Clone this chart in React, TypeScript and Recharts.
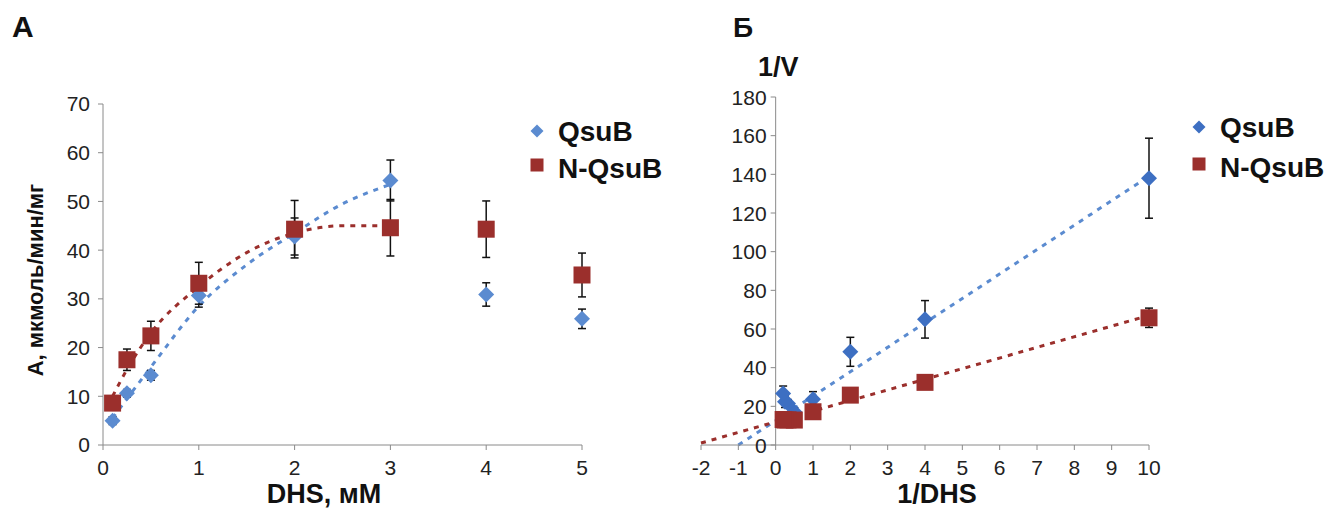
import {
  ComposedChart,
  ErrorBar,
  Legend,
  Line,
  ReferenceLine,
  Scatter,
  XAxis,
  YAxis,
} from "recharts";

// panel A: activity vs DHS concentration
const dhsConc = [0.1, 0.25, 0.5, 1, 2, 3, 4, 5];
const qsubActivity = [5, 10.6, 14.3, 30.7, 42.8, 54.3, 30.9, 25.9];
const qsubActivityErr = [0.8, 0.8, 1, 2.4, 3.8, 4.2, 2.4, 2];
const nQsubActivity = [8.6, 17.5, 22.4, 33.2, 44.3, 44.6, 44.3, 34.9];
const nQsubActivityErr = [1, 2.2, 3, 4.3, 5.9, 5.8, 5.8, 4.5];

// dotted trend curves
const trendConc = [0.1, 0.25, 0.5, 1, 1.5, 2, 2.5, 3];
const qsubTrend = [5.5, 9.5, 16, 28.5, 37, 43.5, 49.5, 53.5];
const nQsubTrend = [10, 15.5, 23, 32.5, 39.5, 43.5, 45, 45];

const xTicksA = [0, 1, 2, 3, 4, 5];
const yTicksA = [0, 10, 20, 30, 40, 50, 60, 70];

// panel B: double reciprocal plot
const invConc = [10, 4, 2, 1, 0.5, 0.33, 0.25, 0.2];
const qsubInvV = [138, 65, 48.2, 23.6, 17.2, 21.5, 22.4, 26.7];
const qsubInvVErr = [20.7, 9.7, 7.5, 4, 2, 2, 3, 3.8];
const nQsubInvV = [65.8, 32.4, 25.8, 17.2, 12.9, 13, 12.9, 13.2];
const nQsubInvVErr = [5, 1, 1, 1, 0.5, 0.5, 0.5, 0.5];

const qsubLineX = [-1, 10];
const qsubLineY = [0, 139];
const nQsubLineX = [-2, 10];
const nQsubLineY = [1, 67];

const xTicksB = [-2, -1, 0, 1, 2, 3, 4, 5, 6, 7, 8, 9, 10];
const yTicksB = [0, 20, 40, 60, 80, 100, 120, 140, 160, 180];

const seriesNames = ["QsuB", "N-QsuB"];

const FONT = "'Liberation Sans', Arial, sans-serif";
const AXIS = "#8a8a8a";
const BLUE_A = "#5b8bd0";
const BLUE_B = "#3d6fc2";
const RED = "#9b2f2c";

const toPoints = (xs: number[], ys: number[], errs?: number[]) =>
  xs.map((x, i) => ({ x, y: ys[i], err: errs ? errs[i] : 0 }));

const Diamond = (props: any) => {
  const { cx, cy, fill, r = 8 } = props;
  if (cx == null || cy == null) return null;
  return (
    <polygon
      points={`${cx},${cy - r} ${cx + r},${cy} ${cx},${cy + r} ${cx - r},${cy}`}
      fill={fill}
    />
  );
};

const Square = (props: any) => {
  const { cx, cy, fill, s = 17 } = props;
  if (cx == null || cy == null) return null;
  return <rect x={cx - s / 2} y={cy - s / 2} width={s} height={s} fill={fill} />;
};

const tickStyle = { fill: "#222", fontSize: 21, fontFamily: FONT };

function LegendBox({ blue, rowGap }: { blue: string; rowGap: number }) {
  return (
    <svg width={150} height={80} style={{ overflow: "visible" }}>
      <Diamond cx={9} cy={19} r={6.5} fill={blue} />
      <text x={30} y={29} fontSize={28} fontWeight="bold" fontFamily={FONT} fill="#111">
        {seriesNames[0]}
      </text>
      <Square cx={9} cy={19 + rowGap - 3} s={13} fill={RED} />
      <text
        x={30}
        y={29 + rowGap}
        fontSize={28}
        fontWeight="bold"
        fontFamily={FONT}
        fill="#111"
      >
        {seriesNames[1]}
      </text>
    </svg>
  );
}

function PanelA() {
  const qsub = toPoints(dhsConc, qsubActivity, qsubActivityErr);
  const nQsub = toPoints(dhsConc, nQsubActivity, nQsubActivityErr);
  const qsubFit = toPoints(trendConc, qsubTrend);
  const nQsubFit = toPoints(trendConc, nQsubTrend);

  return (
    <ComposedChart
      width={700}
      height={509}
      margin={{ top: 104, right: 118, left: 53, bottom: 34 }}
    >
      <XAxis
        type="number"
        dataKey="x"
        domain={[0, 5]}
        ticks={xTicksA}
        stroke={AXIS}
        tick={tickStyle}
        tickSize={5}
        tickMargin={10}
      />
      <YAxis
        type="number"
        dataKey="y"
        domain={[0, 70]}
        ticks={yTicksA}
        width={50}
        stroke={AXIS}
        tick={tickStyle}
        tickSize={5}
        tickMargin={8}
      />
      <Line
        data={qsubFit}
        dataKey="y"
        type="monotone"
        stroke={BLUE_A}
        strokeWidth={3}
        strokeDasharray="5 6"
        dot={false}
        isAnimationActive={false}
        legendType="none"
      />
      <Line
        data={nQsubFit}
        dataKey="y"
        type="monotone"
        stroke={RED}
        strokeWidth={3}
        strokeDasharray="5 6"
        dot={false}
        isAnimationActive={false}
        legendType="none"
      />
      <Scatter
        name={seriesNames[0]}
        data={qsub}
        fill={BLUE_A}
        shape={(p: any) => <Diamond {...p} r={8} />}
        isAnimationActive={false}
      >
        <ErrorBar dataKey="err" direction="y" width={4} stroke="#111" strokeWidth={1.5} />
      </Scatter>
      <Scatter
        name={seriesNames[1]}
        data={nQsub}
        fill={RED}
        shape={(p: any) => <Square {...p} s={17} />}
        isAnimationActive={false}
      >
        <ErrorBar dataKey="err" direction="y" width={4} stroke="#111" strokeWidth={1.5} />
      </Scatter>
      <Legend
        layout="vertical"
        align="center"
        verticalAlign="middle"
        wrapperStyle={{ left: 528, top: 112, width: 150 }}
        content={() => <LegendBox blue={BLUE_A} rowGap={37} />}
      />
    </ComposedChart>
  );
}

// right panel geometry, used to put the y axis at x = 0
const B_WIDTH = 683;
const B_LEFT = 50;
const B_YAXIS = 1;
const B_RIGHT = 184;
const B_PLOT_W = B_WIDTH - B_LEFT - B_YAXIS - B_RIGHT;
const B_ZERO_X =
  B_LEFT + B_YAXIS + (B_PLOT_W * (0 - xTicksB[0])) / (xTicksB[xTicksB.length - 1] - xTicksB[0]);

const ZeroAxisTick = (props: any) => {
  const { y, payload } = props;
  return (
    <g>
      <line x1={B_ZERO_X - 5} x2={B_ZERO_X} y1={y} y2={y} stroke={AXIS} />
      <text
        x={B_ZERO_X - 9}
        y={y}
        textAnchor="end"
        dominantBaseline="central"
        fontSize={21}
        fontFamily={FONT}
        fill="#222"
      >
        {payload.value}
      </text>
    </g>
  );
};

function PanelB() {
  const qsub = toPoints(invConc, qsubInvV, qsubInvVErr);
  const nQsub = toPoints(invConc, nQsubInvV, nQsubInvVErr);
  const qsubFit = toPoints(qsubLineX, qsubLineY);
  const nQsubFit = toPoints(nQsubLineX, nQsubLineY);

  return (
    <ComposedChart
      width={B_WIDTH}
      height={509}
      margin={{ top: 97, right: B_RIGHT, left: B_LEFT, bottom: 34 }}
    >
      <XAxis
        type="number"
        dataKey="x"
        domain={[-2, 10]}
        ticks={xTicksB}
        stroke={AXIS}
        tick={tickStyle}
        tickSize={5}
        tickMargin={10}
      />
      <YAxis
        type="number"
        dataKey="y"
        domain={[0, 180]}
        ticks={yTicksB}
        width={B_YAXIS}
        axisLine={false}
        tickLine={false}
        tick={ZeroAxisTick}
      />
      <ReferenceLine x={0} stroke={AXIS} />
      <Line
        data={qsubFit}
        dataKey="y"
        type="linear"
        stroke={BLUE_A}
        strokeWidth={3}
        strokeDasharray="5 6"
        dot={false}
        isAnimationActive={false}
        legendType="none"
      />
      <Line
        data={nQsubFit}
        dataKey="y"
        type="linear"
        stroke={RED}
        strokeWidth={3}
        strokeDasharray="5 6"
        dot={false}
        isAnimationActive={false}
        legendType="none"
      />
      <Scatter
        name={seriesNames[0]}
        data={qsub}
        fill={BLUE_B}
        shape={(p: any) => <Diamond {...p} r={8} />}
        isAnimationActive={false}
      >
        <ErrorBar dataKey="err" direction="y" width={4} stroke="#111" strokeWidth={1.5} />
      </Scatter>
      <Scatter
        name={seriesNames[1]}
        data={nQsub}
        fill={RED}
        shape={(p: any) => <Square {...p} s={17} />}
        isAnimationActive={false}
      >
        <ErrorBar dataKey="err" direction="y" width={4} stroke="#111" strokeWidth={1.5} />
      </Scatter>
      <Legend
        layout="vertical"
        align="center"
        verticalAlign="middle"
        wrapperStyle={{ left: 540, top: 108, width: 150 }}
        content={() => <LegendBox blue={BLUE_B} rowGap={40} />}
      />
    </ComposedChart>
  );
}

export default function App() {
  const bold = { fontFamily: FONT, fontWeight: "bold" as const, fill: "#111" };
  return (
    <div
      style={{
        position: "absolute",
        left: 0,
        top: 0,
        width: 1333,
        height: 509,
        background: "#fff",
        overflow: "hidden",
      }}
    >
      <div style={{ position: "absolute", left: 0, top: 0 }}>
        <PanelA />
      </div>
      <div style={{ position: "absolute", left: 650, top: 0 }}>
        <PanelB />
      </div>
      <svg
        width={1333}
        height={509}
        style={{ position: "absolute", left: 0, top: 0, pointerEvents: "none" }}
      >
        <text x={12} y={37} fontSize={30} {...bold}>
          А
        </text>
        <text x={733} y={37} fontSize={28} {...bold}>
          Б
        </text>
        <text x={758} y={76} fontSize={27} {...bold}>
          1/V
        </text>
        <text
          x={43}
          y={280}
          fontSize={22}
          textAnchor="middle"
          transform="rotate(-90 43 280)"
          {...bold}
        >
          А, мкмоль/мин/мг
        </text>
        <text x={324} y={503} fontSize={27} textAnchor="middle" {...bold}>
          DHS, мМ
        </text>
        <text x={937} y={503} fontSize={27} textAnchor="middle" {...bold}>
          1/DHS
        </text>
      </svg>
    </div>
  );
}
